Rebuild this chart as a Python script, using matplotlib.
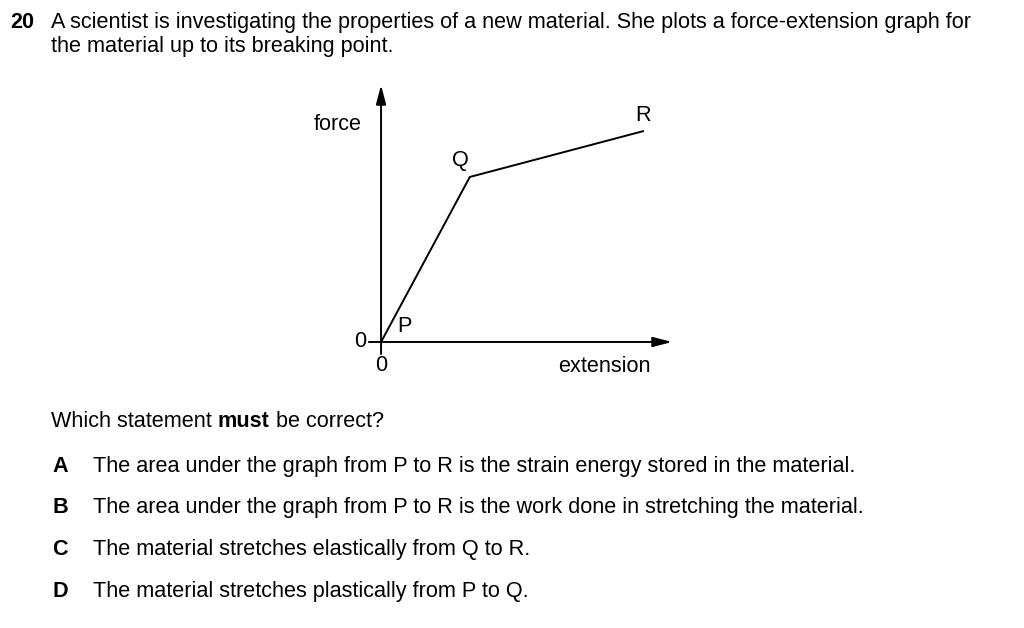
import matplotlib
matplotlib.use("Agg")
import matplotlib.pyplot as plt

plt.rcParams['font.family'] = ['Liberation Sans', 'DejaVu Sans']

# ---- data ----
points = ["P", "Q", "R"]
extension = [0.0, 3.05, 9.0]
force = [0.0, 6.42, 8.2]
axis_labels = ["extension", "force"]
tick_labels = ["0", "0"]

question_no = "20"
question_lines = [
    "A scientist is investigating the properties of a new material. She plots a force-extension graph for",
    "the material up to its breaking point.",
]
prompt_parts = ["Which statement ", "must", " be correct?"]
option_letters = ["A", "B", "C", "D"]
option_texts = [
    "The area under the graph from P to R is the strain energy stored in the material.",
    "The area under the graph from P to R is the work done in stretching the material.",
    "The material stretches elastically from Q to R.",
    "The material stretches plastically from P to Q.",
]

W, H = 1024, 628
fig = plt.figure(figsize=(W / 100, H / 100), dpi=100)
fig.patch.set_facecolor("white")

# background axes in pixel coordinates for text layout
bg = fig.add_axes([0, 0, 1, 1])
bg.set_xlim(0, W)
bg.set_ylim(H, 0)
bg.axis("off")

FS = 15.6

bg.text(10, 28, question_no, fontsize=FS, weight="bold", va="baseline", ha="left")
for i, line in enumerate(question_lines):
    bg.text(51, 28 + 24 * i, line, fontsize=FS, va="baseline", ha="left")

# ---- graph ----
ax = fig.add_axes([0.3437, 0.4145, 0.3268, 0.4707])
ax.set_xlim(-1, 10.5)
ax.set_ylim(-1, 10.5)
ax.axis("off")

lw = 1.4
arrow = dict(arrowstyle="-|>,head_length=1.15,head_width=0.3",
             color="black", lw=lw, shrinkA=0, shrinkB=0, mutation_scale=10)
ax.annotate("", xy=(10.0, 0), xytext=(-0.42, 0), arrowprops=arrow)
ax.annotate("", xy=(0, 10.0), xytext=(0, -0.47), arrowprops=arrow)

ax.plot(extension, force, color="black", lw=lw, solid_joinstyle="miter")

# point labels
label_offsets = [(17, 11), (-7, 12), (0, 11)]
for name, x, y, off in zip(points, extension, force, label_offsets):
    ax.annotate(name, xy=(x, y), xytext=off, textcoords="offset points",
                ha="center", va="center", fontsize=FS)

ax.annotate(tick_labels[0], xy=(-0.45, 0), xytext=(-1, 0), textcoords="offset points",
            ha="right", va="center", fontsize=FS)
ax.annotate(tick_labels[1], xy=(0, -0.47), xytext=(0, -1), textcoords="offset points",
            ha="center", va="top", fontsize=FS)
ax.annotate(axis_labels[0], xy=(7.66, -0.97), ha="center", va="center", fontsize=FS)
ax.annotate(axis_labels[1], xy=(-1.48, 8.48), ha="center", va="center", fontsize=FS,
            annotation_clip=False)

# ---- question prompt with bold word ----
fig.canvas.draw()
renderer = fig.canvas.get_renderer()
x = 51
y = 427
for k, part in enumerate(prompt_parts):
    t = bg.text(x, y, part, fontsize=FS, va="baseline", ha="left",
                weight="bold" if k == 1 else "normal")
    bb = t.get_window_extent(renderer)
    x += bb.width

ys = [472, 513, 555, 597]
for letter, txt, yy in zip(option_letters, option_texts, ys):
    bg.text(60, yy, letter, fontsize=FS, weight="bold", va="baseline", ha="center")
    bg.text(93, yy, txt, fontsize=FS, va="baseline", ha="left")

fig.savefig("out.png", dpi=100, facecolor="white")
